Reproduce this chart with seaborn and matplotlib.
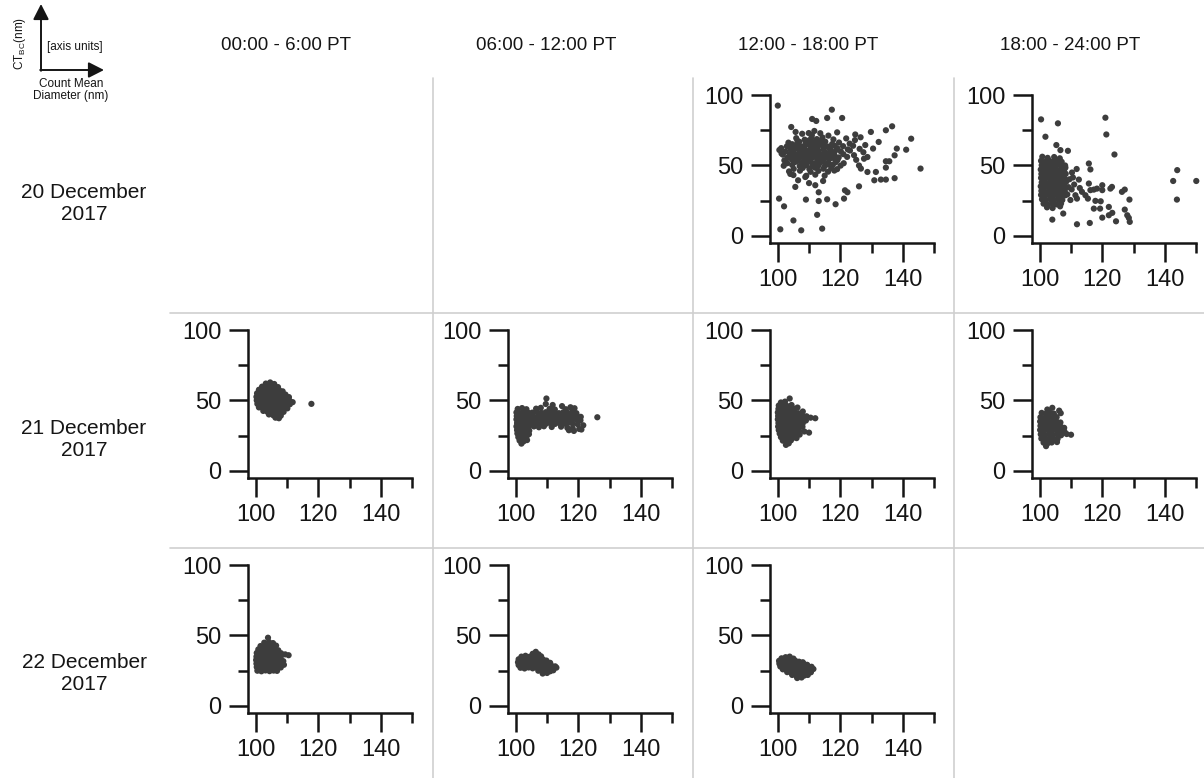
import matplotlib
matplotlib.use("Agg")
import matplotlib.pyplot as plt
from matplotlib.lines import Line2D
from matplotlib.patches import FancyArrowPatch
import pandas as pd
import seaborn as sns

# ---------------- data ----------------
periods = ["00:00 - 6:00 PT", "06:00 - 12:00 PT", "12:00 - 18:00 PT", "18:00 - 24:00 PT"]
days = ["20 December\n2017", "21 December\n2017", "22 December\n2017"]
x_major = [100, 120, 140]
x_minor = [110, 130, 150]
y_major = [0, 50, 100]
y_minor = [25, 75]

# (count mean diameter [nm], CT_BC [nm])
dec20_12_18 = [
    (100.0, 92.5), (100.4, 26.5), (102.0, 21.0), (100.8, 4.7), (105.0, 11.0), (107.5, 4.0),
    (114.2, 5.2), (112.6, 15.0), (109.0, 25.8), (113.1, 24.8), (115.8, 26.0), (118.5, 22.5),
    (121.2, 26.5), (122.3, 31.0), (113.1, 31.0), (111.0, 83.0), (112.3, 81.6), (115.8, 83.7),
    (117.3, 89.6), (120.6, 83.7), (104.3, 77.3), (105.7, 73.8), (109.9, 73.0), (111.7, 74.5),
    (129.8, 73.8), (134.6, 75.0), (136.6, 77.8), (132.3, 66.7), (138.1, 62.0), (141.1, 61.2),
    (142.7, 69.0), (145.7, 47.8), (137.4, 57.2), (134.6, 53.0), (135.7, 53.0), (134.6, 48.5),
    (137.4, 41.0), (134.6, 40.0), (133.0, 40.0), (130.9, 39.5), (131.4, 45.4), (128.7, 45.4),
    (128.7, 56.0), (126.6, 47.8), (126.0, 50.0), (127.6, 54.8), (126.0, 35.2), (121.5, 32.4),
    (105.6, 34.8), (108.8, 41.8), (104.0, 44.0), (106.5, 39.5), (100.5, 61.0), (101.2, 58.5),
    (102.8, 52.0), (110.0, 37.5), (112.0, 36.0), (114.5, 39.0), (124.7, 68.0), (128.0, 64.5),
    (130.5, 62.0), (126.5, 70.0),
    (107.8, 72.5), (110.9, 71.6), (113.6, 72.9), (116.2, 71.2), (119.0, 73.5), (124.8, 72.0),
    (105.9, 69.4), (108.6, 68.3), (110.8, 69.8), (112.5, 68.7), (114.3, 69.9), (117.8, 68.5), (121.9, 69.2),
    (103.4, 66.2), (104.6, 65.1), (106.9, 66.8), (108.9, 65.4), (111.3, 66.5), (113.1, 65.7),
    (115.2, 66.9), (117.4, 65.2), (119.6, 66.3), (123.0, 65.5),
    (102.9, 63.6), (105.5, 64.2), (107.9, 63.3), (110.1, 64.5), (112.1, 63.8), (114.0, 64.6),
    (116.1, 63.4), (118.2, 64.1), (120.9, 63.7), (124.1, 64.0),
    (101.1, 62.3), (104.0, 61.5), (106.1, 62.6), (108.4, 61.7), (110.6, 62.4), (112.4, 61.6),
    (114.6, 62.8), (116.6, 61.9), (119.1, 62.2), (122.4, 61.4), (126.2, 61.8),
    (102.4, 59.8), (105.0, 60.3), (107.1, 59.6), (109.1, 60.5), (111.0, 59.7), (113.1, 60.4),
    (115.0, 59.5), (117.1, 60.2), (120.2, 59.9), (123.1, 60.6), (127.4, 59.4),
    (101.6, 57.7), (103.9, 58.3), (106.0, 57.5), (108.1, 58.4), (110.1, 57.8), (112.0, 58.2),
    (114.1, 57.4), (116.0, 58.5), (118.1, 57.6), (121.0, 58.0), (124.4, 57.3),
    (103.1, 55.6), (105.1, 56.4), (107.0, 55.5), (109.0, 56.3), (111.1, 55.8), (113.0, 56.5),
    (115.1, 55.4), (117.0, 56.2), (119.5, 55.7), (122.2, 56.1),
    (102.1, 53.6), (104.5, 54.3), (106.4, 53.5), (108.6, 54.4), (110.4, 53.7), (112.6, 54.2),
    (114.4, 53.4), (116.5, 54.5), (119.1, 53.8), (125.1, 54.0),
    (103.0, 51.6), (105.4, 52.4), (107.6, 51.7), (109.4, 52.5), (111.5, 51.5), (113.6, 52.3),
    (116.0, 51.8), (118.5, 52.2), (121.1, 51.6),
    (101.9, 49.8), (104.6, 50.4), (107.0, 49.6), (109.1, 50.3), (111.0, 49.5), (113.1, 50.2),
    (115.1, 49.7), (117.6, 50.5), (120.1, 49.9),
    (105.1, 47.6), (108.0, 48.3), (110.1, 47.5), (112.0, 48.4), (114.6, 47.7), (117.1, 48.1), (119.0, 47.4),
    (103.6, 45.8), (107.1, 46.3), (110.5, 45.5), (113.0, 46.2), (116.1, 45.6), (118.1, 46.4),
    (105.0, 43.2), (109.1, 42.7), (112.0, 43.5), (115.0, 42.8),
    (104.8, 59.0), (106.7, 61.1), (108.7, 59.2), (110.7, 61.0), (112.8, 59.1), (114.7, 61.2),
    (116.6, 59.0), (118.7, 61.0), (103.9, 56.9), (105.9, 55.0), (107.8, 57.0), (109.8, 55.1),
    (111.9, 57.1), (113.8, 55.0), (115.9, 57.0), (117.9, 55.2), (104.2, 63.0), (106.5, 64.9),
    (108.5, 63.1), (110.5, 65.0), (112.6, 63.0), (114.6, 65.1), (116.8, 63.0), (105.8, 52.9),
    (107.9, 50.8), (110.0, 52.8), (112.2, 50.9), (114.3, 52.9), (116.4, 50.9), (106.3, 67.5),
    (110.0, 67.8), (113.9, 67.6),
]

dec20_18_24 = [
    (100.4, 82.7), (101.8, 70.4), (105.8, 79.9), (105.3, 64.5), (106.6, 60.9), (109.0, 60.4),
    (121.0, 83.9), (121.3, 72.0), (123.9, 57.8), (115.7, 51.4), (116.2, 47.2), (142.7, 39.0),
    (144.0, 46.7), (150.1, 39.0), (143.9, 25.8), (104.0, 11.6), (107.5, 15.9), (111.9, 8.3),
    (116.0, 9.2), (120.0, 13.0), (122.1, 14.7), (123.2, 16.4), (122.1, 20.6), (124.4, 10.4),
    (127.2, 18.7), (128.0, 14.7), (128.5, 12.8), (128.8, 10.0), (128.7, 25.8), (126.3, 31.3),
    (127.2, 32.9), (122.6, 33.6), (123.1, 34.8), (120.0, 36.0), (120.0, 32.5), (117.8, 24.9),
    (119.3, 19.4), (117.3, 19.4), (119.5, 24.6), (115.7, 37.2), (114.6, 28.9), (115.4, 26.5),
    (111.9, 26.5), (111.4, 28.9), (113.5, 31.3), (116.2, 32.5), (117.3, 32.9), (118.3, 33.6),
    (108.2, 48.5), (110.3, 45.0), (109.5, 40.2), (111.0, 36.5), (110.2, 33.0), (108.8, 29.5),
    (109.8, 25.5), (112.8, 34.0), (107.9, 38.0), (110.6, 41.5), (111.8, 47.5), (112.5, 40.0),
    (100.8, 56.2), (102.5, 55.4), (104.6, 56.0), (106.4, 55.1),
    (100.4, 53.3), (101.6, 52.5), (102.9, 53.6), (104.2, 52.8), (105.5, 53.4), (107.0, 52.6),
    (100.6, 50.2), (101.8, 49.6), (103.0, 50.5), (104.3, 49.8), (105.6, 50.4), (106.9, 49.5), (108.1, 50.0),
    (100.3, 47.1), (101.5, 46.5), (102.8, 47.4), (104.0, 46.6), (105.3, 47.3), (106.6, 46.4), (107.8, 47.0),
    (100.5, 44.0), (101.7, 43.4), (103.0, 44.3), (104.3, 43.5), (105.5, 44.2), (106.8, 43.6), (108.3, 44.1),
    (100.4, 41.2), (101.6, 40.5), (102.9, 41.4), (104.2, 40.6), (105.4, 41.3), (106.7, 40.4), (107.9, 41.0),
    (100.6, 38.0), (101.8, 37.3), (103.1, 38.2), (104.3, 37.4), (105.6, 38.1), (106.9, 37.5), (108.4, 38.3),
    (100.3, 35.2), (101.5, 34.4), (102.8, 35.3), (104.1, 34.5), (105.3, 35.1), (106.6, 34.3), (107.9, 35.0), (109.2, 34.6),
    (100.5, 32.0), (101.7, 31.3), (103.0, 32.2), (104.2, 31.4), (105.5, 32.1), (106.8, 31.2), (108.0, 31.9),
    (100.4, 29.1), (101.6, 28.4), (102.9, 29.3), (104.1, 28.5), (105.4, 29.0), (106.7, 28.2), (108.1, 28.8),
    (100.7, 26.0), (101.9, 25.3), (103.2, 26.2), (104.5, 25.4), (105.8, 26.1), (107.2, 25.5),
    (101.2, 22.9), (102.6, 22.2), (104.0, 23.1), (105.4, 22.4), (106.8, 23.0),
    (102.3, 20.3), (104.1, 19.8), (106.5, 21.0),
]

dec21_00_06 = [
    (103.2, 62.0), (104.6, 62.8), (105.9, 61.7),
    (102.0, 59.8), (103.3, 60.4), (104.6, 59.6), (105.9, 60.3), (107.1, 59.5),
    (101.0, 57.6), (102.3, 57.2), (103.6, 57.9), (104.9, 57.1), (106.2, 57.8), (107.5, 57.3), (108.6, 56.5),
    (100.4, 55.1), (101.7, 54.6), (103.0, 55.4), (104.3, 54.7), (105.6, 55.3), (106.9, 54.5), (108.2, 55.0), (109.5, 54.2),
    (100.2, 52.6), (101.5, 52.0), (102.8, 52.8), (104.1, 52.1), (105.4, 52.7), (106.7, 52.0), (108.0, 52.5), (109.3, 51.9), (110.6, 52.4),
    (100.3, 50.1), (101.6, 49.5), (102.9, 50.3), (104.2, 49.6), (105.5, 50.2), (106.8, 49.5), (108.1, 50.1), (109.4, 49.4), (110.8, 49.9), (111.8, 48.8),
    (100.5, 47.6), (101.8, 47.0), (103.1, 47.8), (104.4, 47.1), (105.7, 47.7), (107.0, 47.0), (108.3, 47.5), (109.6, 46.9), (110.9, 47.3),
    (101.0, 45.1), (102.3, 44.5), (103.6, 45.2), (104.9, 44.6), (106.2, 45.3), (107.5, 44.7), (108.8, 45.0), (110.1, 44.4),
    (102.4, 42.6), (103.7, 42.0), (105.0, 42.7), (106.3, 42.1), (107.6, 42.5), (108.9, 41.9),
    (104.2, 40.1), (105.6, 39.5), (106.9, 40.2), (108.0, 39.2),
    (106.3, 37.8), (107.4, 37.4),
    (117.8, 47.6),
]

dec21_06_12 = [
    (100.6, 44.0), (102.0, 44.6), (103.4, 43.8),
    (100.2, 41.5), (101.5, 41.0), (102.8, 41.7), (104.1, 41.2),
    (100.3, 39.0), (101.6, 38.5), (102.9, 39.3), (104.2, 38.6),
    (100.2, 36.6), (101.5, 36.0), (102.8, 36.8), (104.1, 36.1),
    (100.4, 34.0), (101.7, 33.4), (103.0, 34.2), (104.3, 33.5),
    (100.2, 31.6), (101.5, 31.0), (102.8, 31.7), (104.1, 31.1),
    (100.4, 29.0), (101.7, 28.5), (103.0, 29.2), (104.3, 28.6),
    (100.5, 26.6), (101.8, 26.0), (103.1, 26.7), (104.2, 26.1),
    (100.8, 24.0), (102.1, 23.5), (103.4, 24.2),
    (101.2, 21.6), (102.5, 21.0), (103.6, 21.9),
    (101.8, 19.4),
    (106.5, 44.2), (108.0, 44.8), (110.8, 44.0), (112.5, 43.6), (116.0, 43.8), (118.8, 44.5),
    (105.3, 41.4), (106.8, 41.9), (108.2, 41.2), (109.6, 41.7), (111.0, 41.1), (112.4, 41.8),
    (113.8, 41.0), (115.2, 41.6), (116.6, 41.2), (118.0, 41.7), (119.4, 41.0),
    (105.5, 39.0), (106.9, 38.5), (108.3, 39.3), (109.7, 38.6), (111.1, 39.2), (112.5, 38.5),
    (113.9, 39.1), (115.3, 38.4), (116.7, 39.0), (118.1, 38.6), (119.5, 39.2), (120.8, 38.4),
    (105.4, 36.6), (106.8, 36.1), (108.2, 36.8), (109.6, 36.2), (111.0, 36.7), (112.4, 36.0),
    (113.8, 36.5), (115.2, 36.1), (116.6, 36.8), (118.0, 36.2), (119.4, 36.6), (120.7, 35.9),
    (105.6, 34.0), (107.0, 33.5), (108.4, 34.2), (109.8, 33.6), (111.2, 34.1), (112.6, 33.4),
    (114.0, 34.0), (115.4, 33.5), (116.8, 34.2), (118.2, 33.6), (119.8, 33.2), (121.6, 32.4),
    (105.8, 31.6), (107.4, 31.0), (109.0, 31.7), (111.5, 31.2), (114.5, 31.4), (116.5, 30.6),
    (118.2, 30.3), (120.3, 29.8),
    (117.0, 28.9), (118.6, 28.4), (121.0, 29.4),
    (109.8, 51.4), (109.6, 47.5), (111.8, 46.8), (114.8, 46.0), (117.5, 45.2),
    (126.1, 38.1),
]

dec21_12_18 = [
    (101.0, 48.6), (102.3, 49.2), (103.8, 51.4),
    (100.3, 46.4), (101.6, 46.9), (102.9, 46.2), (104.4, 46.8),
    (100.2, 44.0), (101.5, 43.5), (102.8, 44.2), (104.1, 43.6), (105.4, 44.1), (106.3, 45.0),
    (100.0, 41.5), (101.3, 41.0), (102.6, 41.7), (103.9, 41.1), (105.2, 41.6), (106.5, 41.0), (108.0, 42.2),
    (100.1, 39.0), (101.4, 38.5), (102.7, 39.2), (104.0, 38.6), (105.3, 39.1), (106.6, 38.4),
    (107.9, 39.0), (109.2, 38.8), (110.5, 37.8), (112.0, 37.4),
    (100.0, 36.6), (101.3, 36.1), (102.6, 36.8), (103.9, 36.2), (105.2, 36.7), (106.5, 36.0), (107.8, 36.5), (109.0, 35.8),
    (100.2, 34.0), (101.5, 33.5), (102.8, 34.2), (104.1, 33.6), (105.4, 34.1), (106.7, 33.4), (108.0, 33.9),
    (100.1, 31.5), (101.4, 31.0), (102.7, 31.7), (104.0, 31.1), (105.3, 31.6), (106.6, 31.0), (107.9, 31.4),
    (100.3, 29.0), (101.6, 28.5), (102.9, 29.2), (104.2, 28.6), (105.5, 29.1), (106.8, 28.5), (108.5, 28.0), (110.0, 27.2),
    (100.6, 26.5), (101.9, 26.0), (103.2, 26.7), (104.5, 26.1), (105.8, 26.6), (107.0, 25.8),
    (101.0, 24.0), (102.3, 23.5), (103.6, 24.2), (104.9, 23.6), (106.0, 23.3),
    (101.6, 21.5), (102.9, 21.0), (104.2, 21.7),
    (102.6, 18.5), (103.5, 19.6),
]

dec21_18_24 = [
    (102.4, 43.6), (104.0, 44.8), (106.2, 42.8),
    (100.6, 41.2), (101.9, 40.6), (103.2, 41.4), (104.5, 40.7), (106.7, 41.0),
    (100.2, 38.1), (101.5, 37.6), (102.8, 38.3), (104.1, 37.7), (105.4, 38.2),
    (100.1, 35.1), (101.4, 34.6), (102.7, 35.3), (104.0, 34.7), (105.3, 35.2), (106.6, 34.4),
    (100.2, 32.0), (101.5, 31.5), (102.8, 32.2), (104.1, 31.6), (105.4, 32.1), (106.7, 31.4), (107.8, 30.6),
    (100.1, 29.1), (101.4, 28.6), (102.7, 29.3), (104.0, 28.7), (105.3, 29.2), (106.6, 28.4), (107.9, 28.0),
    (100.3, 26.0), (101.6, 25.5), (102.9, 26.2), (104.2, 25.6), (105.5, 26.1), (106.8, 25.3), (108.6, 26.2), (110.0, 25.7),
    (100.5, 23.0), (101.8, 22.5), (103.1, 23.2), (104.4, 22.6), (105.7, 22.8),
    (101.2, 20.1), (102.5, 19.6), (103.8, 20.2), (105.5, 20.5),
    (102.0, 17.6),
]

dec22_00_06 = [
    (103.9, 48.4),
    (102.7, 44.9), (104.2, 45.4), (105.5, 44.6),
    (101.5, 42.5), (102.8, 42.0), (104.1, 42.7), (105.4, 42.1), (106.5, 42.8),
    (100.8, 40.1), (102.1, 39.6), (103.4, 40.3), (104.7, 39.7), (106.0, 40.2), (107.2, 39.5),
    (100.3, 37.6), (101.6, 37.1), (102.9, 37.8), (104.2, 37.2), (105.5, 37.7), (106.8, 37.0),
    (108.1, 37.4), (109.4, 36.6), (110.5, 36.0),
    (100.2, 35.0), (101.5, 34.5), (102.8, 35.2), (104.1, 34.6), (105.4, 35.1), (106.7, 34.4), (108.0, 34.9),
    (100.1, 32.6), (101.4, 32.1), (102.7, 32.8), (104.0, 32.2), (105.3, 32.7), (106.6, 32.0), (107.9, 32.5), (108.8, 31.8),
    (100.2, 30.0), (101.5, 29.5), (102.8, 30.2), (104.1, 29.6), (105.4, 30.1), (106.7, 29.4), (108.0, 29.9), (109.0, 29.2),
    (100.3, 27.6), (101.6, 27.1), (102.9, 27.8), (104.2, 27.2), (105.5, 27.7), (106.8, 27.0), (108.0, 27.3),
    (100.5, 25.0), (101.8, 24.6), (103.1, 25.2), (104.4, 24.7), (105.7, 25.1), (106.8, 24.9),
]

dec22_06_12 = [
    (105.4, 37.0), (106.4, 38.4), (107.3, 36.6),
    (101.8, 35.0), (103.1, 35.6), (104.4, 34.9), (105.7, 35.4), (107.0, 34.7), (108.1, 35.2),
    (100.9, 33.1), (102.2, 32.6), (103.5, 33.3), (104.8, 32.7), (106.1, 33.2), (107.4, 32.5), (108.7, 33.0), (109.8, 32.2),
    (100.7, 31.0), (102.0, 30.5), (103.3, 31.2), (104.6, 30.6), (105.9, 31.1), (107.2, 30.4), (108.5, 30.9), (109.8, 30.3), (111.0, 30.6),
    (100.9, 29.0), (102.2, 28.5), (103.5, 29.2), (104.8, 28.6), (106.1, 29.1), (107.4, 28.4), (108.7, 28.9), (110.0, 28.3), (111.3, 28.8), (112.6, 28.1),
    (101.5, 27.1), (102.8, 26.6), (104.1, 27.3), (105.4, 26.7), (106.7, 27.2), (108.0, 26.5), (109.3, 27.0), (110.6, 26.4), (111.9, 26.8), (113.0, 27.2),
    (107.2, 25.0), (108.5, 24.5), (109.8, 25.1), (111.0, 24.6), (112.0, 25.3),
    (108.6, 23.0), (110.0, 23.4),
]

dec22_12_18 = [
    (101.2, 33.8), (102.5, 34.6), (103.8, 35.0), (105.0, 33.6),
    (100.4, 32.0), (101.7, 31.5), (103.0, 32.2), (104.3, 31.6), (105.6, 32.1), (106.8, 31.4), (108.0, 31.0),
    (100.5, 30.0), (101.8, 29.5), (103.1, 30.2), (104.4, 29.6), (105.7, 30.1), (107.0, 29.4), (108.3, 29.9), (109.4, 29.2),
    (100.8, 28.0), (102.1, 27.5), (103.4, 28.2), (104.7, 27.6), (106.0, 28.1), (107.3, 27.4), (108.6, 27.9), (109.9, 27.3), (110.8, 27.8),
    (101.6, 26.0), (102.9, 25.5), (104.2, 26.2), (105.5, 25.6), (106.8, 26.1), (108.1, 25.4), (109.4, 25.9), (110.7, 25.3), (111.4, 26.2),
    (103.0, 24.0), (104.3, 23.5), (105.6, 24.2), (106.9, 23.6), (108.2, 24.1), (109.5, 23.4), (110.6, 23.9),
    (104.6, 22.0), (105.9, 21.5), (107.2, 22.2), (108.5, 21.6), (109.6, 22.0),
    (106.2, 19.8), (107.6, 20.2),
]

panel_data = {
    (0, 2): dec20_12_18, (0, 3): dec20_18_24,
    (1, 0): dec21_00_06, (1, 1): dec21_06_12, (1, 2): dec21_12_18, (1, 3): dec21_18_24,
    (2, 0): dec22_00_06, (2, 1): dec22_06_12, (2, 2): dec22_12_18,
}

rows = []
for (r, c), pts in panel_data.items():
    for xv, yv in pts:
        rows.append({"day": r, "period": c, "diameter": xv, "ctbc": yv})
df = pd.DataFrame(rows)

# ---------------- style ----------------
sns.set_theme(style="white")
plt.rcParams["font.family"] = ["Liberation Sans", "DejaVu Sans"]
plt.rcParams["mathtext.fontset"] = "custom"
plt.rcParams["mathtext.rm"] = "Liberation Sans"

W, H = 1204, 778
fig = plt.figure(figsize=(W / 100, H / 100), dpi=100)
fig.patch.set_facecolor("white")

def fx(px):
    return px / W

def fy(py):
    return 1 - py / H

INK = "#151515"
DOT = "#3d3d3d"
GRID = "#cfcfcf"

ax_left = [248, 508, 770, 1032]
ax_top = [95, 330, 565]
ax_w, ax_h = 164, 148

# separators
for xv in [433, 693, 954]:
    fig.add_artist(Line2D([fx(xv), fx(xv)], [fy(78), fy(778)], color=GRID, lw=1.2))
for yv in [313, 548]:
    fig.add_artist(Line2D([fx(170), fx(1204)], [fy(yv), fy(yv)], color=GRID, lw=1.2))

for (r, c) in panel_data:
    L, T = ax_left[c], ax_top[r]
    ax = fig.add_axes([fx(L), fy(T + ax_h), ax_w / W, ax_h / H])
    ax.set_facecolor("none")
    sub = df[(df["day"] == r) & (df["period"] == c)]
    sns.scatterplot(data=sub, x="diameter", y="ctbc", ax=ax, color=DOT, s=20,
                    edgecolor="none", linewidth=0, legend=False, clip_on=False)
    ax.set_xlim(97.5, 150.01)
    ax.set_ylim(-5, 100.01)
    ax.set_xticks(x_major)
    ax.set_xticks(x_minor, minor=True)
    ax.set_yticks(y_major)
    ax.set_yticks(y_minor, minor=True)
    ax.set_xticklabels([str(v) for v in x_major])
    ax.set_yticklabels([str(v) for v in y_major])
    ax.set_xlabel("")
    ax.set_ylabel("")
    for s in ["top", "right"]:
        ax.spines[s].set_visible(False)
    for s in ["left", "bottom"]:
        ax.spines[s].set_linewidth(1.8)
        ax.spines[s].set_color(INK)
    ax.tick_params(which="major", direction="out", length=14, width=1.8, color=INK,
                   labelsize=17, labelcolor=INK, pad=5, left=True, bottom=True)
    ax.tick_params(which="minor", direction="out", length=7.5, width=1.8, color=INK,
                   left=True, bottom=True)
    ax.grid(False)

# column headers
for c, label in enumerate(periods):
    fig.text(fx(ax_left[c] + 38), fy(46), label, ha="center", va="center",
             fontsize=13.5, color=INK)

# row labels
for r, label in enumerate(days):
    fig.text(fx(84), fy(ax_top[r] + ax_h / 2 + 35), label, ha="center", va="center",
             fontsize=15, color=INK, linespacing=1.2)

# axis legend (top-left)
ox, oy = 41, 70
arrow_style = "-|>,head_length=0.55,head_width=0.28"
fig.add_artist(FancyArrowPatch((fx(ox), fy(oy + 0.8)), (fx(ox), fy(4)), transform=fig.transFigure,
                               arrowstyle=arrow_style, mutation_scale=17,
                               lw=1.4, color=INK, shrinkA=0, shrinkB=0))
fig.add_artist(FancyArrowPatch((fx(ox - 0.8), fy(oy)), (fx(104), fy(oy)), transform=fig.transFigure,
                               arrowstyle=arrow_style, mutation_scale=17,
                               lw=1.4, color=INK, shrinkA=0, shrinkB=0))
fig.text(fx(75), fy(47), "[axis units]", ha="center", va="center", fontsize=8.5, color=INK)
fig.text(fx(20), fy(44), r"CT$_{\mathregular{BC}}$(nm)", ha="center", va="center",
         rotation=90, fontsize=8.5, color=INK)
fig.text(fx(71), fy(90), "Count Mean\nDiameter (nm)", ha="center", va="center",
         fontsize=8.5, color=INK, linespacing=1.1)

fig.savefig("out.png", dpi=100, facecolor="white")
